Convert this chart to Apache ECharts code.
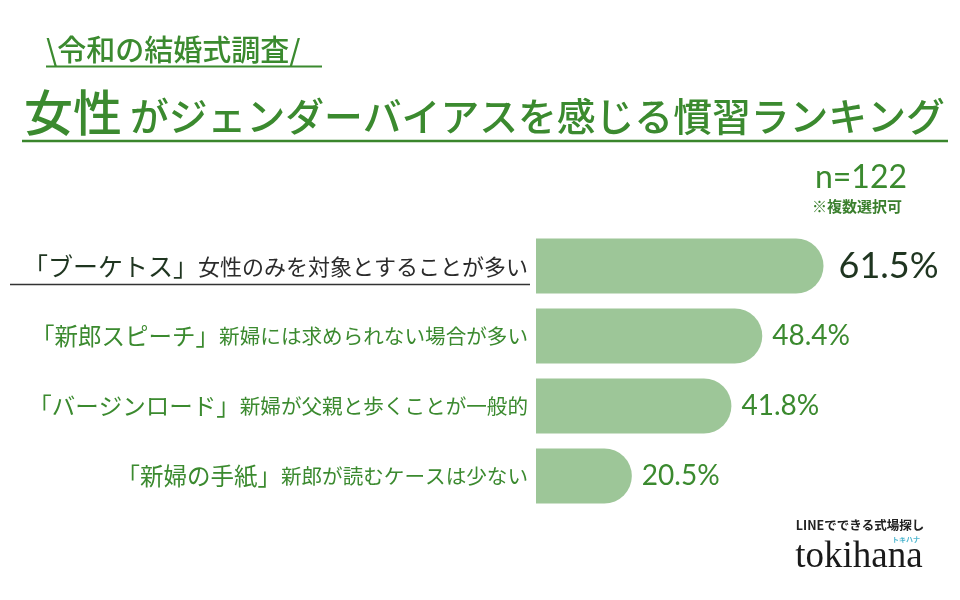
<!DOCTYPE html>
<html lang="ja">
<head>
    <meta charset="UTF-8">
    <title>女性がジェンダーバイアスを感じる慣習ランキング</title>
    <style type="text/css">
        body {
            margin: 0;
            background: #fff;
        }

        #chart {
            width: 960px;
            height: 600px;
        }
    </style>
    <script type="text/javascript" src="https://cdn.jsdelivr.net/npm/echarts@6/dist/echarts.min.js"></script>
</head>
<body>
    <div id="chart"></div>
</body>
</html>
<script type="text/javascript">
    var keywords = ['「ブーケトス」', '「新郎スピーチ」', '「バージンロード」', '「新婦の手紙」'];
    var descs = ['女性のみを対象とすることが多い', '新婦には求められない場合が多い', '新婦が父親と歩くことが一般的', '新郎が読むケースは少ない'];
    var values = [61.5, 48.4, 41.8, 20.5];

    var green = '#3b8a2f';
    var dark = '#1f3520';
    var jp = 'Noto Sans CJK JP';
    var num = 'Lato';

    var chart = echarts.init(document.getElementById('chart'));

    var barData = [];
    for (var i = 0; i < values.length; i++) {
        var item = { value: values[i] };
        if (i === 0) {
            item.label = { fontSize: 36, color: dark, distance: 15 };
        }
        barData.push(item);
    }

    var option = {
        backgroundColor: '#fff',
        animation: false,
        grid: {
            left: 536,
            top: 231,
            right: 50,
            height: 280
        },
        xAxis: {
            type: 'value',
            min: 0,
            max: 80,
            show: false
        },
        yAxis: {
            type: 'category',
            inverse: true,
            data: keywords.map(function (k, i) { return k + descs[i]; }),
            axisLine: { show: false },
            axisTick: { show: false },
            axisLabel: {
                margin: 8,
                formatter: function (v, i) {
                    if (i === 0) {
                        return '{k0|' + keywords[i] + '}{d0|' + descs[i] + '}';
                    }
                    return '{k|' + keywords[i] + '}{d|' + descs[i] + '}';
                },
                rich: {
                    k0: { fontFamily: jp, fontSize: 25, color: dark, verticalAlign: 'bottom' },
                    d0: { fontFamily: jp, fontSize: 22, color: '#2b2b2b', verticalAlign: 'bottom', padding: [0, 0, 1, 0] },
                    k: { fontFamily: jp, fontSize: 23.5, color: green, verticalAlign: 'bottom' },
                    d: { fontFamily: jp, fontSize: 20.6, color: green, verticalAlign: 'bottom', padding: [0, 0, 1, 0] }
                }
            }
        },
        series: [{
            type: 'bar',
            data: barData,
            barWidth: 55,
            itemStyle: {
                color: '#9dc698',
                borderRadius: [0, 28, 28, 0]
            },
            label: {
                show: true,
                position: 'right',
                distance: 10,
                formatter: '{c}%',
                fontFamily: num,
                fontSize: 28,
                color: green
            }
        }],
        graphic: [
            {
                type: 'text',
                style: { x: 46, y: 50, text: '\\令和の結婚式調査/', font: '500 29px "' + jp + '"', fill: green, textVerticalAlign: 'middle' }
            },
            {
                type: 'line',
                shape: { x1: 46, y1: 66.5, x2: 322, y2: 66.5 },
                style: { stroke: green, lineWidth: 2 }
            },
            {
                type: 'text',
                style: { x: 24, y: 112, text: '女性', font: '500 49px "' + jp + '"', fill: green, textVerticalAlign: 'middle' }
            },
            {
                type: 'text',
                style: { x: 130, y: 116, text: 'がジェンダーバイアスを感じる慣習ランキング', font: '500 38.8px "' + jp + '"', fill: green, textVerticalAlign: 'middle' }
            },
            {
                type: 'line',
                shape: { x1: 22, y1: 141, x2: 948, y2: 141 },
                style: { stroke: '#3a862c', lineWidth: 2.5 }
            },
            {
                type: 'text',
                style: { x: 861, y: 178, text: 'n=122', font: '32px ' + num, fill: green, textAlign: 'center', textVerticalAlign: 'middle' }
            },
            {
                type: 'text',
                style: { x: 857, y: 206, text: '※複数選択可', font: 'bold 15px "' + jp + '"', fill: '#3a7f2d', textAlign: 'center', textVerticalAlign: 'middle' }
            },
            {
                type: 'line',
                shape: { x1: 10, y1: 284.5, x2: 530, y2: 284.5 },
                style: { stroke: '#333', lineWidth: 1.5 }
            },
            {
                type: 'text',
                style: { x: 860, y: 525, text: 'LINEでできる式場探し', font: 'bold 12.5px "' + jp + '"', fill: '#222', textAlign: 'center', textVerticalAlign: 'middle' }
            },
            {
                type: 'text',
                style: { x: 906, y: 539, text: 'トキハナ', font: 'bold 7px "' + jp + '"', fill: '#4fb6cf', textAlign: 'center', textVerticalAlign: 'middle' }
            },
            {
                type: 'text',
                style: { x: 859, y: 557, text: 'tokihana', font: '37px "Liberation Serif"', fill: '#1a1a1a', textAlign: 'center', textVerticalAlign: 'middle' }
            }
        ]
    };

    chart.setOption(option);
</script>
